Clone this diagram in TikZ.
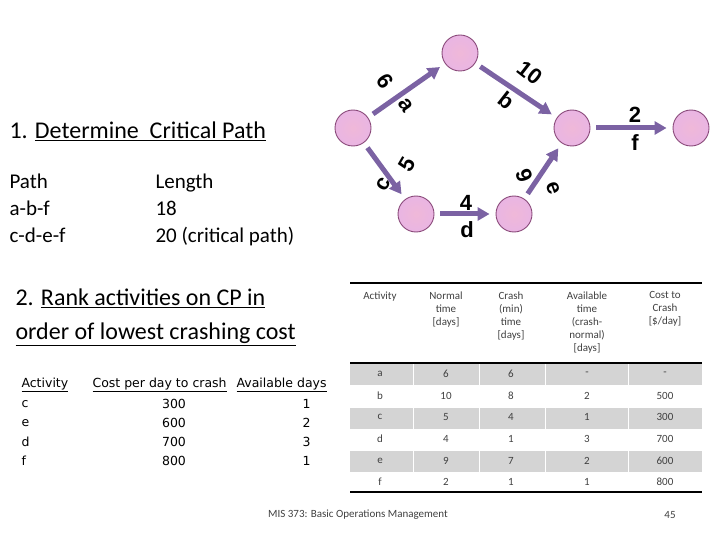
\documentclass[tikz,border=0pt]{standalone}
\usepackage{fontspec}
\setmainfont{Carlito}
\newfontfamily\arialf{Liberation Sans}
\newfontfamily\tahf{DejaVu Sans}
\usetikzlibrary{arrows.meta}
\definecolor{arr}{HTML}{7B62A3}
\definecolor{nodeb}{HTML}{8A4A7A}
\definecolor{nodef}{HTML}{E9B5E3}
\definecolor{rowgray}{HTML}{D4D4D4}
\tikzset{
 ev/.style={circle,draw=nodeb,line width=0.9pt,inner color=nodef!70!pink,outer color=nodef,minimum size=36pt,inner sep=0},
 act/.style={draw=arr,line width=5pt,-{Triangle[length=12pt,width=13pt]},shorten >=6pt,shorten <=6pt},
 lab/.style={font=\arialf\fontsize{22}{22}\selectfont\bfseries},
 big/.style={font=\fontsize{24}{26}\selectfont,anchor=west},
 mid/.style={font=\fontsize{21}{27}\selectfont,anchor=north west,align=left},
 sm/.style={font=\tahf\fontsize{12.5}{14}\selectfont},
 tb/.style={font=\fontsize{11}{13}\selectfont,align=center,text=black!75},
}
\begin{document}
\begin{tikzpicture}[x=1pt,y=-1pt]
\useasboundingbox (0,0) rectangle (720,540);
% network
\node[ev] (n1) at (353,128) {};
\node[ev] (n2) at (460,53) {};
\node[ev] (n3) at (572,128) {};
\node[ev] (n4) at (691,128) {};
\node[ev] (n5) at (416,214) {};
\node[ev] (n6) at (514,214) {};
\draw[act] (n1) -- (n2);
\draw[act] (n2) -- (n3);
\draw[act] (n3) -- (n4);
\draw[act] (n1) -- (n5);
\draw[act] (n5) -- (n6);
\draw[act] (n6) -- (n3);
\node[lab,rotate=-55] (la1) at (385,81) {6};
\node[lab,rotate=-55] (la2) at (406,105) {a};
\node[lab,rotate=-38] (lb1) at (530,73) {10};
\node[lab,rotate=-38] (lb2) at (507,100) {b};
\node[lab] (lf1) at (635,115) {2};
\node[lab] (lf2) at (635,143) {f};
\node[lab,rotate=60] (lc1) at (407,164) {5};
\node[lab,rotate=60] (lc2) at (384,184) {c};
\node[lab] (ld1) at (466,203) {4};
\node[lab] (ld2) at (467,230) {d};
\node[lab,rotate=-70] (le1) at (524,176) {9};
\node[lab,rotate=-70] (le2) at (553,188) {e};
% left texts
\node[big] (t1) at (6,131) {1. \underline{Determine\ \ Critical Path}};
\node[mid] (t2) at (6,170) {Path\\a-b-f\\c-d-e-f};
\node[mid] (t3) at (152,170) {Length\\18\\20 (critical path)};
\node[big,align=left,anchor=north west,font=\fontsize{24}{34}\selectfont] (t4) at (12,285) {2. \underline{Rank activities on CP in}\\\underline{order of lowest crashing cost}};
% ranking table
\node[sm,anchor=west] (h1) at (18,385) {\underline{Activity}};
\node[sm,anchor=west] (h2) at (89,385) {\underline{Cost per day to crash}};
\node[sm,anchor=west] (h3) at (233,385) {\underline{Available days}};
\foreach \a/\c/\d [count=\i] in {c/300/1,e/600/2,d/700/3,f/800/1}{
 \node[sm,anchor=west] (ra\i) at (18,385+19*\i) {\a};
 \node[sm] (rc\i) at (174,385+19*\i) {\c};
 \node[sm,anchor=east] (rd\i) at (314,385+19*\i) {\d};
}
% right table
\foreach \y in {374,418,461}{
 \fill[rowgray] (350,\y-10.5) rectangle (702,\y+10.5);
 \foreach \x in {413,479,545,628}{\draw[white,line width=1pt] (\x,\y-10.5) -- (\x,\y+10.5);}
}
\draw[line width=1.5pt] (350,283) -- (702,283);
\draw[line width=1.5pt] (350,363) -- (702,363);
\draw[line width=1.5pt] (350,492) -- (702,492);
\node[tb,anchor=north] (c1) at (380,288) {Activity};
\node[tb,anchor=north] (c2) at (446,288) {Normal\\time\\{[days]}};
\node[tb,anchor=north] (c3) at (511,288) {Crash\\(min)\\time\\{[days]}};
\node[tb,anchor=north] (c4) at (587,288) {Available\\time\\(crash-\\normal)\\{[days]}};
\node[tb,anchor=north] (c5) at (665,288) {Cost to\\Crash\\{[\$/day]}};
\foreach \a/\n/\c/\v/\k [count=\i] in {a/6/6/-/-,b/10/8/2/500,c/5/4/1/300,d/4/1/3/700,e/9/7/2/600,f/2/1/1/800}{
 \node[tb] (x\i a) at (380,352.5+21.6*\i) {\a};
 \node[tb] (x\i b) at (446,352.5+21.6*\i) {\n};
 \node[tb] (x\i c) at (511,352.5+21.6*\i) {\c};
 \node[tb] (x\i d) at (587,352.5+21.6*\i) {\v};
 \node[tb] (x\i e) at (665,352.5+21.6*\i) {\k};
}
\node[tb] (foot) at (358,515) {MIS 373: Basic Operations Management};
\node[tb] (pg) at (670,515) {45};
\end{tikzpicture}
\end{document}
